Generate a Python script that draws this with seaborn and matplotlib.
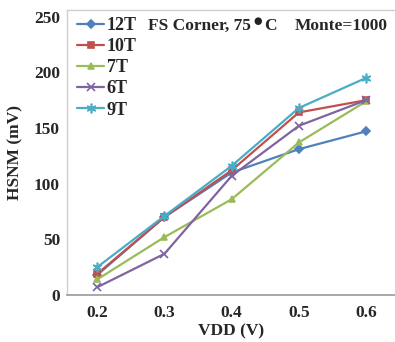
import matplotlib
matplotlib.use("Agg")
import matplotlib.pyplot as plt
import seaborn as sns
import pandas as pd

vdd = [0.2, 0.3, 0.4, 0.5, 0.6]
series_names = ["12T", "10T", "7T", "6T", "9T"]
hsnm_12t = [18, 70, 110, 131, 147]
hsnm_10t = [19, 70, 112, 164, 175]
hsnm_7t = [14, 52, 86, 137, 174]
hsnm_6t = [7, 37, 107, 152, 175]
hsnm_9t = [25, 71, 116, 168, 195]
x_ticks = ["0.2", "0.3", "0.4", "0.5", "0.6"]
y_ticks = [0, 50, 100, 150, 200, 250]

values = [hsnm_12t, hsnm_10t, hsnm_7t, hsnm_6t, hsnm_9t]
rows = []
for name, vals in zip(series_names, values):
    for x, y in zip(vdd, vals):
        rows.append({"VDD": x, "HSNM": y, "Cell": name})
df = pd.DataFrame(rows)

colors = {"12T": "#4F81BD", "10T": "#C0504D", "7T": "#9BBB59", "6T": "#8064A2", "9T": "#4BACC6"}
markers = {"12T": "D", "10T": "s", "7T": "^", "6T": "x", "9T": (6, 2, 0)}
msizes = {"12T": 3.8, "10T": 4.3, "7T": 5, "6T": 6, "9T": 7}

sns.set_style("white")
plt.rcParams["font.family"] = ["Liberation Serif", "DejaVu Serif"]
plt.rcParams["font.weight"] = "bold"

fig = plt.figure(figsize=(3.95, 3.42), dpi=100)
ax = fig.add_axes([67 / 395, 47 / 342, 1 - 67 / 395, 285 / 342])

for name in series_names:
    sub = df[df["Cell"] == name]
    mk = markers[name]
    kw = dict(markeredgecolor=colors[name], markeredgewidth=1.2)
    if mk not in ("x", (6, 2, 0)):
        kw["markerfacecolor"] = colors[name]
    sns.lineplot(data=sub, x="VDD", y="HSNM", ax=ax, color=colors[name], marker=mk,
                 markersize=msizes[name], linewidth=1.6, label=name, **kw)

ax.set_xlim(0.155, 0.643)
ax.set_ylim(0, 256)
ax.set_xticks(vdd)
ax.set_xticklabels(x_ticks)
ax.set_yticks(y_ticks)
ax.tick_params(axis="both", length=0, labelsize=12.5)
ax.tick_params(axis="x", pad=7)
ax.tick_params(axis="y", pad=5)
for lab in ax.get_xticklabels() + ax.get_yticklabels():
    lab.set_fontweight("bold")

ax.set_xlabel("VDD (V)", fontsize=12.5, fontweight="bold", labelpad=2)
ax.set_ylabel("HSNM (mV)", fontsize=12.5, fontweight="bold", labelpad=8)

for s in ["left", "top"]:
    ax.spines[s].set_color("#d0d0d0")
    ax.spines[s].set_linewidth(1.0)
ax.spines["right"].set_visible(False)
ax.spines["bottom"].set_color("#999999")
ax.spines["bottom"].set_linewidth(1.2)

leg = ax.legend(loc="upper left", bbox_to_anchor=(77 / 395, 1 - 17 / 342),
                bbox_transform=fig.transFigure, frameon=False, fontsize=13,
                handlelength=1.5, handletextpad=0.15, labelspacing=0.23,
                borderpad=0, borderaxespad=0)
for t in leg.get_texts():
    t.set_fontweight("bold")

ty = 1 - 25.5 / 342
fig.text(148 / 395, ty, "FS Corner, 75", fontsize=12.5, fontweight="bold", va="center", ha="left")
fig.text(258 / 395, 1 - 21 / 342, "\u25CF", fontsize=7, color="#222222",
         va="center", ha="center", family=["DejaVu Sans"])
fig.text(264 / 395, ty, "C", fontsize=12.5, fontweight="bold", va="center", ha="left")
fig.text(295 / 395, ty, "Monte=1000", fontsize=12.5, fontweight="bold", va="center", ha="left")

fig.savefig("out.png", dpi=100)
